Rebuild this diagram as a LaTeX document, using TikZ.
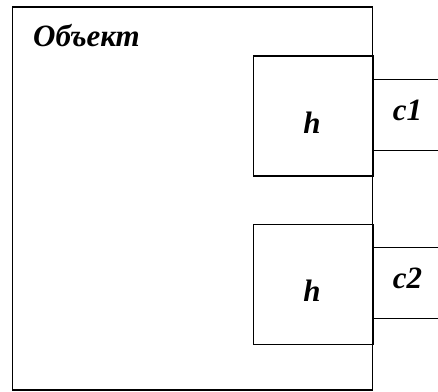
\documentclass[tikz,border=0pt]{standalone}
\usepackage{fontspec}
\setmainfont{Liberation Serif}
\begin{document}
\begin{tikzpicture}[x=1pt,y=-1pt,
  frame/.style={draw=black,line width=1.7pt,inner sep=0pt},
  lbl/.style={inner sep=0pt,font=\fontsize{31}{33}\selectfont\bfseries\itshape},
  wire/.style={draw=black,line width=1.5pt}]
\useasboundingbox (0,0) rectangle (438,391);
% outer object frame
\path[frame] (12.5,7) rectangle (372.5,390);
% inner boxes
\node[frame,minimum width=120pt,minimum height=120pt,anchor=north west] (h1) at (252.5,55) {};
\node[frame,minimum width=120pt,minimum height=120pt,anchor=north west] (h2) at (252.5,223.5) {};
% labels
\node[lbl,anchor=base west] (t) at (33,46) {Объект};
\node[lbl,anchor=base] (l1) at (312,133) {h};
\node[lbl,anchor=base] (l2) at (312,301) {h};
\node[lbl,anchor=base] (c1) at (407.5,120) {c1};
\node[lbl,anchor=base] (c2) at (407.5,288) {c2};
% port lines
\coordinate (p1a) at (372.5,79.5);
\coordinate (p1b) at (372.5,150.5);
\coordinate (p2a) at (372.5,247.5);
\coordinate (p2b) at (372.5,318.5);
\coordinate (e1a) at (438,79.5);
\coordinate (e1b) at (438,150.5);
\coordinate (e2a) at (438,247.5);
\coordinate (e2b) at (438,318.5);
\draw[wire] (p1a) -- (e1a);
\draw[wire] (p1b) -- (e1b);
\draw[wire] (p2a) -- (e2a);
\draw[wire] (p2b) -- (e2b);
\end{tikzpicture}
\end{document}
